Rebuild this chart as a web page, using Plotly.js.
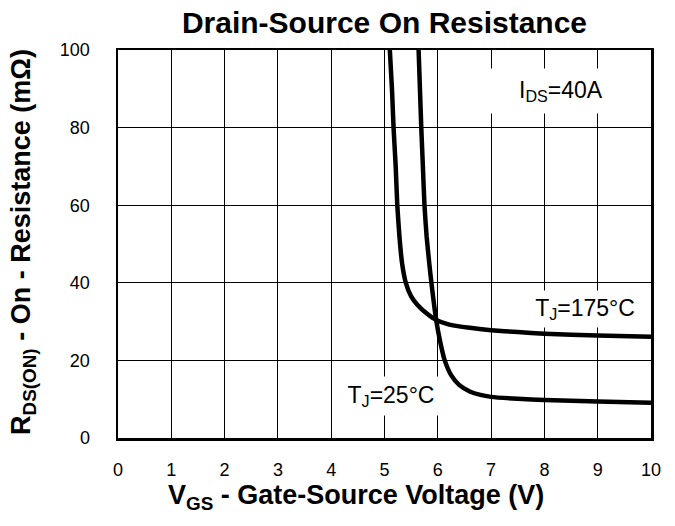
<!DOCTYPE html>
<html>
<head>
<meta charset="utf-8">
<script src="https://cdn.plot.ly/plotly-3.0.1.min.js"></script>
<style>html,body{margin:0;padding:0;background:#fff;}#chart{width:675px;height:526px;}</style>
</head>
<body>
<div id="chart"></div>
<script>
// V_GS (V) and R_DS(on) (mOhm)
const vgs175 = [5.10, 5.14, 5.17, 5.21, 5.24, 5.28, 5.33, 5.40, 5.50, 5.62, 5.80, 5.97, 6.20, 6.60, 7.0, 7.5, 8.0, 9.0, 10.0];
const rds175 = [100, 90, 80, 70, 60, 52, 45, 40, 36.5, 34.3, 32.0, 30.4, 29.3, 28.4, 27.8, 27.3, 26.9, 26.4, 26.1];
const vgs25 = [5.64, 5.665, 5.69, 5.72, 5.75, 5.79, 5.84, 5.88, 5.97, 6.05, 6.13, 6.25, 6.40, 6.60, 6.80, 7.0, 7.5, 8.0, 9.0, 10.0];
const rds25 = [100, 90, 80, 70, 60, 52, 45, 40, 30.4, 24.5, 20, 16.2, 13.7, 12.0, 11.1, 10.6, 10.1, 9.8, 9.4, 9.1];
const xTicks = [0, 1, 2, 3, 4, 5, 6, 7, 8, 9, 10];
const yTicks = [0, 20, 40, 60, 80, 100];

const FONT = 'Arial, "Liberation Sans", sans-serif';

const lineStyle = {color: '#000', width: 4.5, shape: 'spline', smoothing: 0.5};
const traces = [
  {x: vgs175, y: rds175, mode: 'lines', line: lineStyle, name: 'TJ=175°C', hoverinfo: 'skip'},
  {x: vgs25, y: rds25, mode: 'lines', line: lineStyle, name: 'TJ=25°C', hoverinfo: 'skip'}
];

const axisCommon = {
  showgrid: true, gridcolor: '#000', gridwidth: 1, zeroline: false,
  showline: true, linecolor: '#000', linewidth: 2.5, mirror: true,
  ticks: '', tickfont: {size: 18, family: FONT, color: '#000'},
  automargin: false, fixedrange: true
};

// plot area in pixels: left 118, right 651, top 50, bottom 438
const PL = 118, PW = 533, PB = 438, PH = 388;
const px2paperX = p => (p - PL) / PW;
const px2paperY = p => (PB - p) / PH;

const layout = {
  width: 675, height: 526,
  margin: {l: 118, r: 24, t: 50, b: 88},
  paper_bgcolor: '#fff', plot_bgcolor: '#fff',
  showlegend: false,
  font: {family: FONT, color: '#000'},
  title: {text: '<b>Drain-Source On Resistance</b>', font: {size: 30, family: FONT, color: '#000'},
          x: 0.5, xref: 'paper', xanchor: 'center', y: 1 - 22/526, yref: 'container', yanchor: 'middle'},
  xaxis: Object.assign({}, axisCommon, {
    range: [0, 10], tickvals: xTicks, ticktext: xTicks.map(String), ticklabelstandoff: 14
  }),
  yaxis: Object.assign({}, axisCommon, {
    range: [0, 100], tickvals: yTicks, ticktext: yTicks.map(String), ticklabelstandoff: 22
  }),
  annotations: [
    // x-axis title
    {x: px2paperX(356), y: px2paperY(497), xref: 'paper', yref: 'paper', xanchor: 'center', yanchor: 'middle',
     text: '<b>V<sub>GS</sub> - Gate-Source Voltage (V)</b>', showarrow: false,
     font: {size: 27, family: FONT, color: '#000'}},
    // y-axis title
    {x: px2paperX(23), y: px2paperY(242), xref: 'paper', yref: 'paper', xanchor: 'center', yanchor: 'middle',
     text: '<b>R<sub>DS(ON)</sub> - On - Resistance (mΩ)</b>', showarrow: false, textangle: -90,
     font: {size: 27, family: FONT, color: '#000'}},
    {x: 8.32, y: 89.5, xref: 'x', yref: 'y', text: 'I<sub>DS</sub>=40A', showarrow: false,
     font: {size: 23, family: FONT, color: '#000'}, bgcolor: '#fff', width: 140, height: 44, xanchor: 'center', yanchor: 'middle', borderpad: 0},
    {x: 8.76, y: 33.3, xref: 'x', yref: 'y', text: 'T<sub>J</sub>=175°C', showarrow: false,
     font: {size: 23, family: FONT, color: '#000'}, bgcolor: '#fff', width: 118, height: 36, xanchor: 'center', yanchor: 'middle', borderpad: 0},
    {x: 5.13, y: 10.9, xref: 'x', yref: 'y', text: 'T<sub>J</sub>=25°C', showarrow: false,
     font: {size: 23, family: FONT, color: '#000'}, bgcolor: '#fff', width: 106, height: 38, xanchor: 'center', yanchor: 'middle', borderpad: 0}
  ]
};

Plotly.newPlot('chart', traces, layout, {displayModeBar: false, staticPlot: true});
</script>
</body>
</html>
